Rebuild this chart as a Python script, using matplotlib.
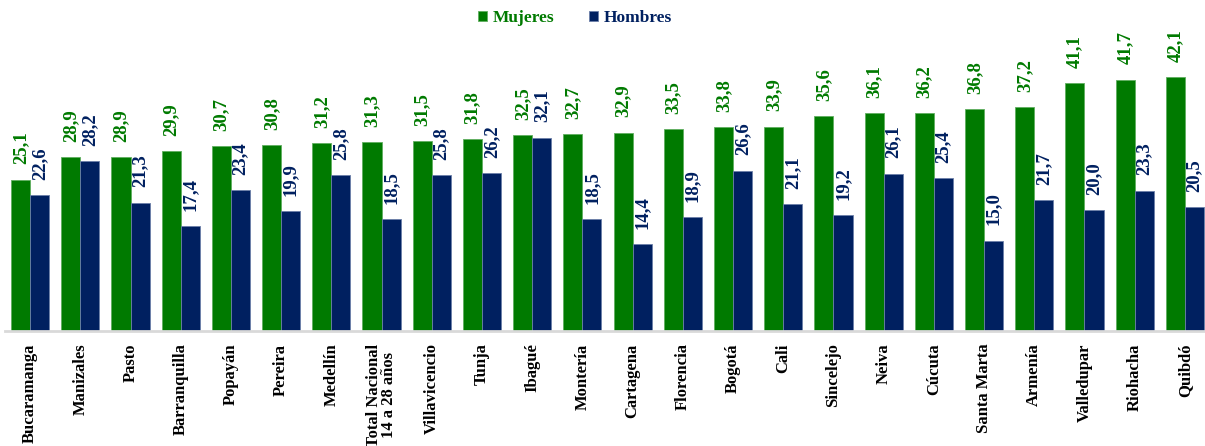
import matplotlib.pyplot as plt
import numpy as np

# Data
ciudades = ['Bucaramanga', 'Manizales', 'Pasto', 'Barranquilla', 'Popayán', 'Pereira',
            'Medellín', 'Total Nacional\n14 a 28 años', 'Villavicencio', 'Tunja', 'Ibagué',
            'Montería', 'Cartagena', 'Florencia', 'Bogotá', 'Cali', 'Sincelejo', 'Neiva',
            'Cúcuta', 'Santa Marta', 'Armenía', 'Valledupar', 'Riohacha', 'Quibdó']
mujeres = [25.1, 28.9, 28.9, 29.9, 30.7, 30.8, 31.2, 31.3, 31.5, 31.8, 32.5, 32.7,
           32.9, 33.5, 33.8, 33.9, 35.6, 36.1, 36.2, 36.8, 37.2, 41.1, 41.7, 42.1]
hombres = [22.6, 28.2, 21.3, 17.4, 23.4, 19.9, 25.8, 18.5, 25.8, 26.2, 32.1, 18.5,
           14.4, 18.9, 26.6, 21.1, 19.2, 26.1, 25.4, 15.0, 21.7, 20.0, 23.3, 20.5]

verde = '#007A00'
azul = '#002060'
serif = 'Liberation Serif'

fig = plt.figure(figsize=(12.05, 4.46), dpi=100)
ax = fig.add_axes([5 / 1205, 115 / 446, 1200 / 1205, 311 / 446])

x = np.arange(len(ciudades))
w = 0.38
b1 = ax.bar(x - w / 2, mujeres, w, color=verde, edgecolor='#5fae5f', linewidth=0.6, label='Mujeres')
b2 = ax.bar(x + w / 2, hombres, w, color=azul, edgecolor='#6b7fa8', linewidth=0.6, label='Hombres')

for bars, vals, c in [(b1, mujeres, verde), (b2, hombres, azul)]:
    for r, v in zip(bars, vals):
        ax.annotate(f'{v:.1f}'.replace('.', ','), (r.get_x() + r.get_width() / 2, v),
                    xytext=(0, 11), textcoords='offset points', rotation=90,
                    ha='center', va='bottom', color=c, fontsize=13.5,
                    fontweight='bold', family=serif)

ax.set_xlim(-0.5, 23.4)
ax.set_ylim(0, 51.6)
ax.set_yticks([])
ax.set_xticks(x)
ax.set_xticklabels(ciudades, rotation=90, fontsize=12, fontweight='bold',
                   family=serif, linespacing=0.85, ha='center', va='top')
ax.tick_params(axis='x', length=0, pad=9)
for s in ['top', 'left', 'right']:
    ax.spines[s].set_visible(False)
ax.spines['bottom'].set_color('#d9d9d9')
ax.spines['bottom'].set_linewidth(2)

leg = fig.legend(handles=[b1, b2], loc='upper center', ncol=2, bbox_to_anchor=(0.477, 1.012),
                 frameon=False, prop={'family': serif, 'weight': 'bold', 'size': 12.5},
                 labelcolor=[verde, azul], handlelength=0.55, handleheight=0.55,
                 handletextpad=0.3, columnspacing=2.0)

plt.savefig('out.png', dpi=100)
